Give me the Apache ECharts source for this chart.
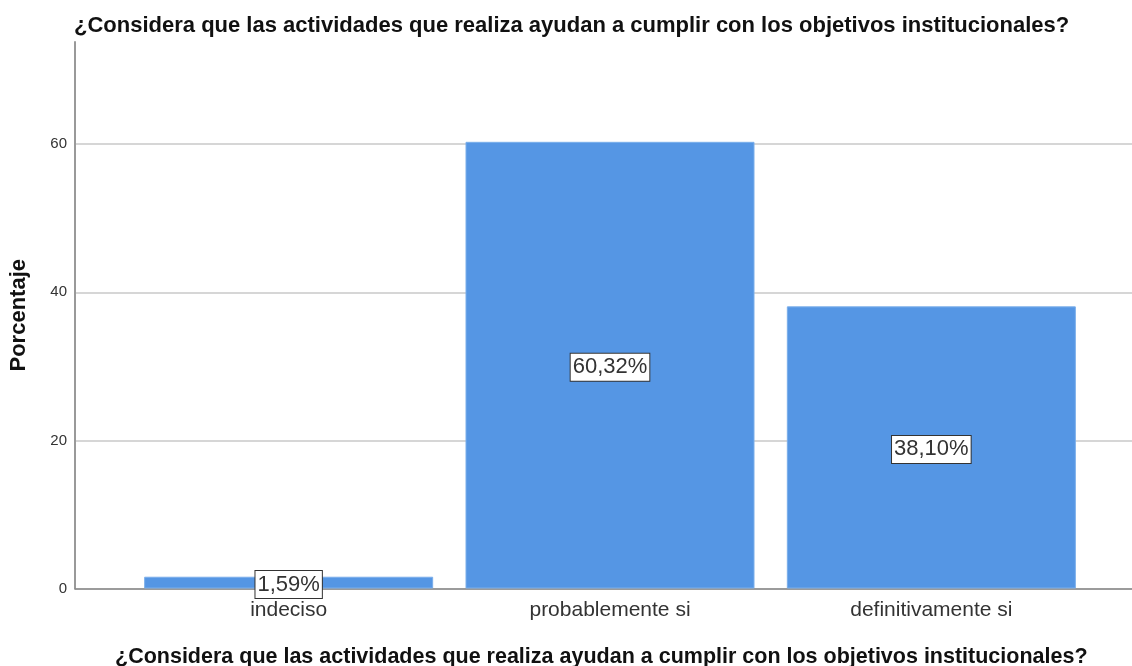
<!DOCTYPE html>
<html>
<head>
<meta charset="utf-8">
<script src="https://cdn.jsdelivr.net/npm/echarts@6/dist/echarts.min.js"></script>
<style>
  html, body { margin: 0; padding: 0; background: #fff; }
  #chart { width: 1132px; height: 666px; }
</style>
</head>
<body>
<div id="chart"></div>
<script>
const question = '¿Considera que las actividades que realiza ayudan a cumplir con los objetivos institucionales?';
const categories = ['indeciso', 'probablemente si', 'definitivamente si'];
const percentages = [1.59, 60.32, 38.10];
const yTicks = [0, 20, 40, 60];

const font = '"Liberation Sans", Arial, sans-serif';
const chart = echarts.init(document.getElementById('chart'));

const option = {
  animation: false,
  textStyle: { fontFamily: font },
  title: [
    {
      text: question,
      left: 69,
      top: 10,
      textStyle: { fontFamily: font, fontSize: 22, fontWeight: 'bold', color: '#111' }
    },
    {
      text: question,
      left: 110,
      top: 641,
      textStyle: { fontFamily: font, fontSize: 21.5, fontWeight: 'bold', color: '#111' }
    }
  ],
  grid: [
    { left: 74, right: 0, top: 42, bottom: 77.5 },
    { left: 128, right: 40, top: 42, bottom: 77.5 }
  ],
  xAxis: [
    {
      gridIndex: 0,
      type: 'value',
      min: 0,
      max: 1,
      axisLine: { show: true, lineStyle: { color: '#888', width: 1.5 } },
      axisTick: { show: false },
      axisLabel: { show: false },
      splitLine: { show: false }
    },
    {
      gridIndex: 1,
      type: 'category',
      data: categories,
      axisLine: { show: false },
      axisTick: { show: false },
      axisLabel: { fontSize: 21, color: '#333', margin: 11, fontFamily: font }
    }
  ],
  yAxis: [
    {
      gridIndex: 0,
      type: 'value',
      min: 0,
      max: 73.8,
      interval: 20,
      name: 'Porcentaje',
      nameLocation: 'middle',
      nameGap: 45,
      nameTextStyle: { fontFamily: font, fontSize: 22, fontWeight: 'bold', color: '#111' },
      axisLine: { show: true, lineStyle: { color: '#999', width: 2 } },
      axisTick: { show: false },
      axisLabel: {
        fontSize: 15,
        color: '#333',
        margin: 8,
        fontFamily: font,
        showMaxLabel: false,
        formatter: v => (yTicks.includes(v) ? String(v) : '')
      },
      splitLine: { show: true, showMaxLine: false, lineStyle: { color: '#c8c8c8', width: 1.5 } }
    },
    {
      gridIndex: 1,
      type: 'value',
      min: 0,
      max: 73.8,
      show: false
    }
  ],
  series: [
    {
      type: 'bar',
      xAxisIndex: 1,
      yAxisIndex: 1,
      data: percentages,
      barWidth: 289,
      itemStyle: { color: '#5596e4', borderColor: '#7aaeea', borderWidth: 1 },
      label: {
        show: true,
        position: 'inside',
        offset: [0, 2],
        formatter: p => p.value.toFixed(2).replace('.', ',') + '%',
        fontFamily: font,
        fontSize: 22,
        color: '#333',
        backgroundColor: '#fff',
        borderColor: '#333',
        borderWidth: 1,
        padding: [3, 2, 2, 2]
      }
    }
  ]
};

chart.setOption(option);
</script>
</body>
</html>
